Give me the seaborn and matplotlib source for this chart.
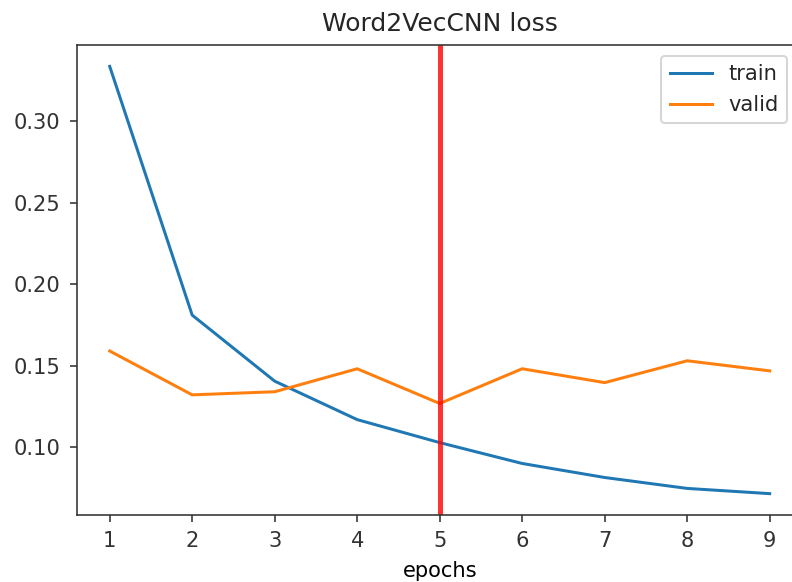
import matplotlib
matplotlib.use("Agg")
import matplotlib.pyplot as plt
import seaborn as sns
import pandas as pd

epochs = [1, 2, 3, 4, 5, 6, 7, 8, 9]
train_loss = [0.3336, 0.181, 0.1405, 0.1169, 0.1028, 0.0900, 0.0814, 0.0747, 0.0715]
valid_loss = [0.159, 0.1321, 0.134, 0.1481, 0.1268, 0.1481, 0.1396, 0.153, 0.1468]
best_epoch = 5

df = pd.DataFrame({
    "epochs": epochs * 2,
    "loss": train_loss + valid_loss,
    "split": ["train"] * len(epochs) + ["valid"] * len(epochs),
})

plt.rcParams["font.family"] = ["DejaVu Sans"]
plt.rcParams["text.color"] = "#262626"
plt.rcParams["xtick.color"] = "#333333"
plt.rcParams["ytick.color"] = "#333333"
plt.rcParams["axes.edgecolor"] = "#333333"

W, H = 792, 582
fig = plt.figure(figsize=(W / 144, H / 144), dpi=144)
ax = fig.add_axes([76.7 / W, 1 - 515 / H, 726 / W, (515 - 45) / H])

sns.lineplot(data=df, x="epochs", y="loss", hue="split",
             palette=["#1f77b4", "#ff7f0e"], linewidth=1.5, ax=ax, legend=False)
ax.axvline(best_epoch, color="red", alpha=0.8, linewidth=2.5)

ax.plot([], [], color="#1f77b4", lw=1.5, label="train")
ax.plot([], [], color="#ff7f0e", lw=1.5, label="valid")
fig.legend(loc="upper right", bbox_to_anchor=(787 / W, 1 - 56 / H),
           borderaxespad=0, fontsize=10.5)

ax.spines["right"].set_visible(False)
ax.set_xticks(epochs)
ax.tick_params(labelsize=10.5, pad=4.5)
ax.set_title("Word2VecCNN loss", fontsize=12.5, pad=7)
ax.set_xlabel("epochs", fontsize=10.5, labelpad=5)
ax.set_ylabel("")

fig.savefig("out.png", dpi=144)
